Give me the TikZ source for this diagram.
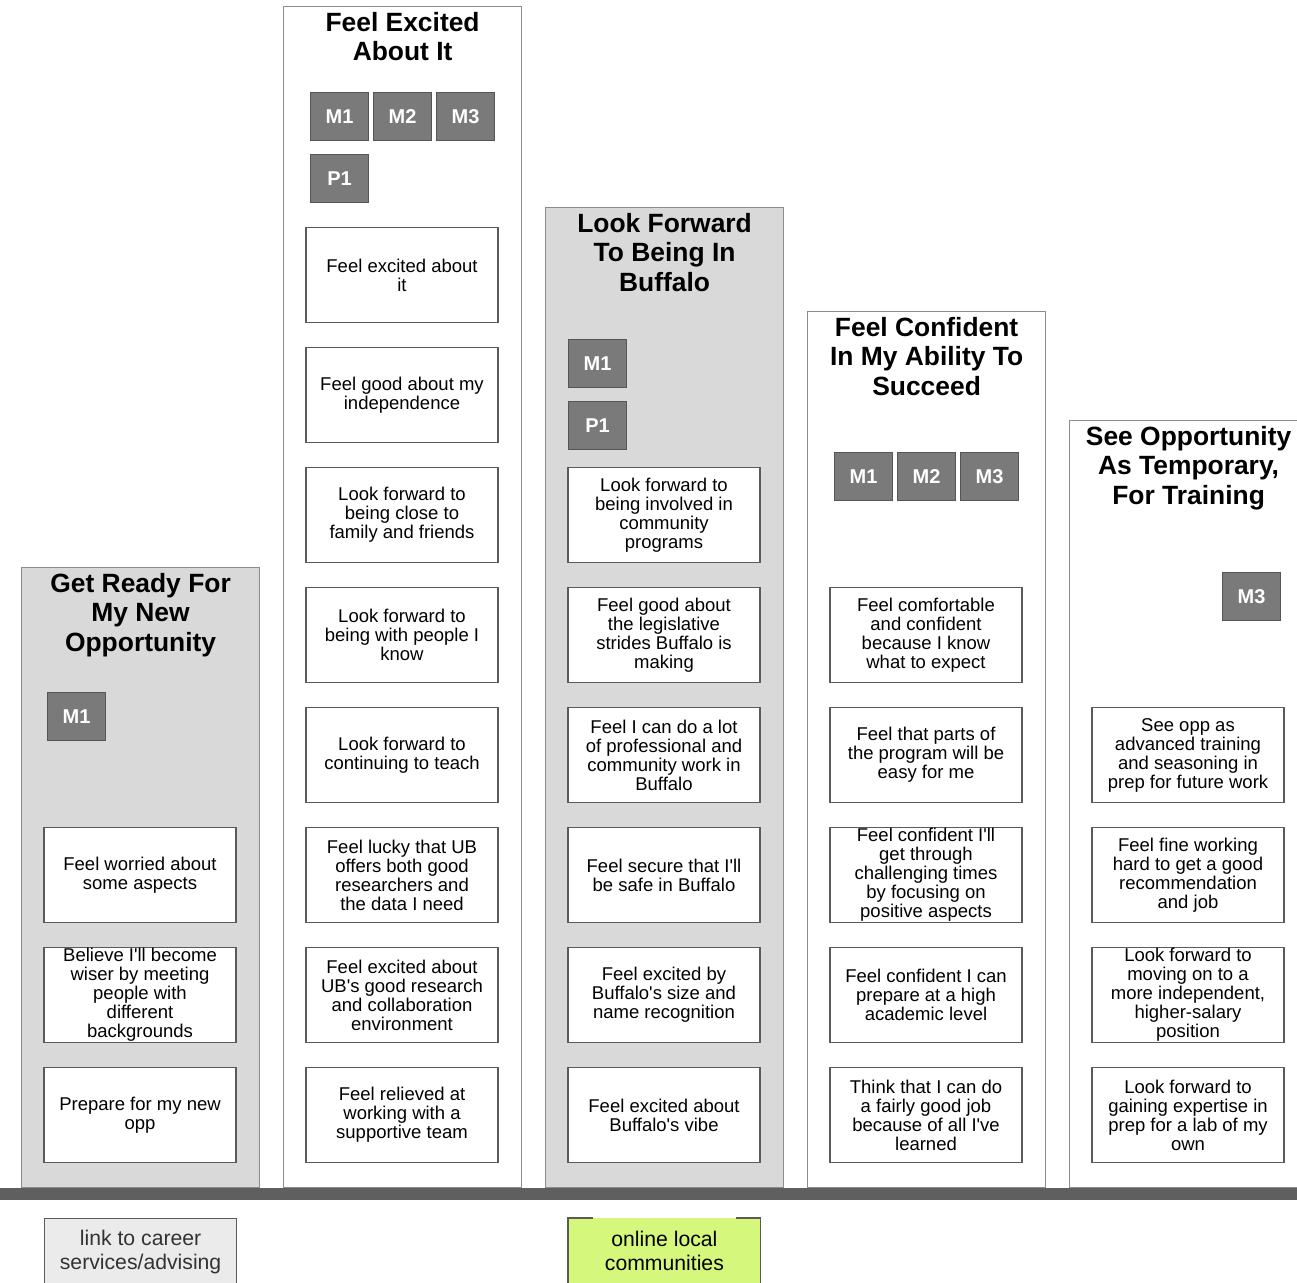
\documentclass[tikz,border=0pt]{standalone}
\usepackage{fontspec}
\setmainfont{Liberation Sans}[Ligatures=TeXOff]
\usepackage{tikz}
\usetikzlibrary{positioning}

\definecolor{colfill}{HTML}{D9D9D9}
\definecolor{colline}{HTML}{8C8C8C}
\definecolor{cardline}{HTML}{5A5A5A}
\definecolor{tagfill}{HTML}{7A7A7A}
\definecolor{tagline}{HTML}{555555}
\definecolor{barfill}{HTML}{5F5F5F}
\definecolor{linkfill}{HTML}{EBEBEB}
\definecolor{limefill}{HTML}{D5F77B}

\begin{document}
\begin{tikzpicture}[x=0.5pt, y=-0.5pt,
                column/.style={draw=colline, line width=0.6pt, minimum width=119pt, anchor=south west, inner sep=0pt},
                coltitle/.style={align=center, inner sep=0pt, font=\bfseries\fontsize{13.2pt}{14.75pt}\selectfont},
                card/.style={draw=cardline, line width=0.6pt, fill=white, minimum width=96pt, minimum height=47.6pt, inner sep=0pt, align=center, font=\fontsize{9.25pt}{9.5pt}\selectfont},
                tag/.style={draw=tagline, line width=0.6pt, fill=tagfill, minimum width=29pt, minimum height=24pt, inner sep=0pt, text=white, font=\bfseries\fontsize{10pt}{10pt}\selectfont},
                note/.style={minimum width=96pt, minimum height=33pt, inner sep=0pt, align=center, font=\fontsize{10.6pt}{12pt}\selectfont}]

                \useasboundingbox (0,0) rectangle (1297,1283);

                % Columns
                \node[column, fill=colfill, minimum height=310pt] at (21,1188) (c1) {};
                \node[column, fill=white, minimum height=590.5pt] at (283,1188) (c2) {};
                \node[column, fill=colfill, minimum height=490pt] at (545,1188) (c3) {};
                \node[column, fill=white, minimum height=438pt] at (807,1188) (c4) {};
                \node[column, fill=white, minimum height=383.5pt] at (1069,1188) (c5) {};

                % Column titles
                \node[coltitle, below=3pt of c1.north] (t1) {Get Ready For\\My New\\Opportunity};
                \node[coltitle, below=3pt of c2.north] (t2) {Feel Excited\\About It};
                \node[coltitle, below=3pt of c3.north] (t3) {Look Forward\\To Being In\\Buffalo};
                \node[coltitle, below=3pt of c4.north] (t4) {Feel Confident\\In My Ability To\\Succeed};
                \node[coltitle, below=3pt of c5.north] (t5) {See Opportunity\\As Temporary,\\For Training};

                % Tags
                \node[tag, anchor=north west] at (47,692) (c1m1) {M1};

                \node[tag, anchor=north west] at (310,92) (c2m1) {M1};
                \node[tag, right=1.9pt of c2m1] (c2m2) {M2};
                \node[tag, right=1.9pt of c2m2] (c2m3) {M3};
                \node[tag, below=6.4pt of c2m1] (c2p1) {P1};

                \node[tag, anchor=north west] at (568,339) (c3m1) {M1};
                \node[tag, below=6.4pt of c3m1] (c3p1) {P1};

                \node[tag, anchor=north west] at (834,452) (c4m1) {M1};
                \node[tag, right=1.9pt of c4m1] (c4m2) {M2};
                \node[tag, right=1.9pt of c4m2] (c4m3) {M3};

                \node[tag, anchor=north west] at (1222,572) (c5m3) {M3};

                % Column 1 cards
                \node[card, anchor=north] at (140,827) (a1) {Feel worried about\\some aspects};
                \node[card, below=11.8pt of a1] (a2) {Believe I'll become\\wiser by meeting\\people with\\different\\backgrounds};
                \node[card, below=11.8pt of a2] (a3) {Prepare for my new\\opp};

                % Column 2 cards
                \node[card, anchor=north] at (402,227) (b1) {Feel excited about\\it};
                \node[card, below=11.8pt of b1] (b2) {Feel good about my\\independence};
                \node[card, below=11.8pt of b2] (b3) {Look forward to\\being close to\\family and friends};
                \node[card, below=11.8pt of b3] (b4) {Look forward to\\being with people I\\know};
                \node[card, below=11.8pt of b4] (b5) {Look forward to\\continuing to teach};
                \node[card, below=11.8pt of b5] (b6) {Feel lucky that UB\\offers both good\\researchers and\\the data I need};
                \node[card, below=11.8pt of b6] (b7) {Feel excited about\\UB's good research\\and collaboration\\environment};
                \node[card, below=11.8pt of b7] (b8) {Feel relieved at\\working with a\\supportive team};

                % Column 3 cards
                \node[card, anchor=north] at (664,467) (d1) {Look forward to\\being involved in\\community\\programs};
                \node[card, below=11.8pt of d1] (d2) {Feel good about\\the legislative\\strides Buffalo is\\making};
                \node[card, below=11.8pt of d2] (d3) {Feel I can do a lot\\of professional and\\community work in\\Buffalo};
                \node[card, below=11.8pt of d3] (d4) {Feel secure that I'll\\be safe in Buffalo};
                \node[card, below=11.8pt of d4] (d5) {Feel excited by\\Buffalo's size and\\name recognition};
                \node[card, below=11.8pt of d5] (d6) {Feel excited about\\Buffalo's vibe};

                % Column 4 cards
                \node[card, anchor=north] at (926,587) (e1) {Feel comfortable\\and confident\\because I know\\what to expect};
                \node[card, below=11.8pt of e1] (e2) {Feel that parts of\\the program will be\\easy for me};
                \node[card, below=11.8pt of e2] (e3) {Feel confident I'll\\get through\\challenging times\\by focusing on\\positive aspects};
                \node[card, below=11.8pt of e3] (e4) {Feel confident I can\\prepare at a high\\academic level};
                \node[card, below=11.8pt of e4] (e5) {Think that I can do\\a fairly good job\\because of all I've\\learned};

                % Column 5 cards
                \node[card, anchor=north] at (1188,707) (f1) {See opp as\\advanced training\\and seasoning in\\prep for future work};
                \node[card, below=11.8pt of f1] (f2) {Feel fine working\\hard to get a good\\recommendation\\and job};
                \node[card, below=11.8pt of f2] (f3) {Look forward to\\moving on to a\\more independent,\\higher-salary\\position};
                \node[card, below=11.8pt of f3] (f4) {Look forward to\\gaining expertise in\\prep for a lab of my\\own};

                % Baseline bar
                \fill[barfill] (0,1188) rectangle (1297,1200);

                % Notes below the bar
                \node[note, draw=cardline, line width=0.6pt, fill=linkfill, text=black!80, anchor=north west] at (44,1218) (link) {link to career\\services/advising};
                \node[note, fill=limefill, anchor=north west] at (568,1218) (online) {online local\\communities};
                \draw[cardline, line width=0.6pt] ([xshift=12.5pt]online.north west) -- (online.north west) -- (online.south west);
                \draw[cardline, line width=0.6pt] ([xshift=-12.5pt]online.north east) -- (online.north east) -- (online.south east);
            \end{tikzpicture}
\end{document}
